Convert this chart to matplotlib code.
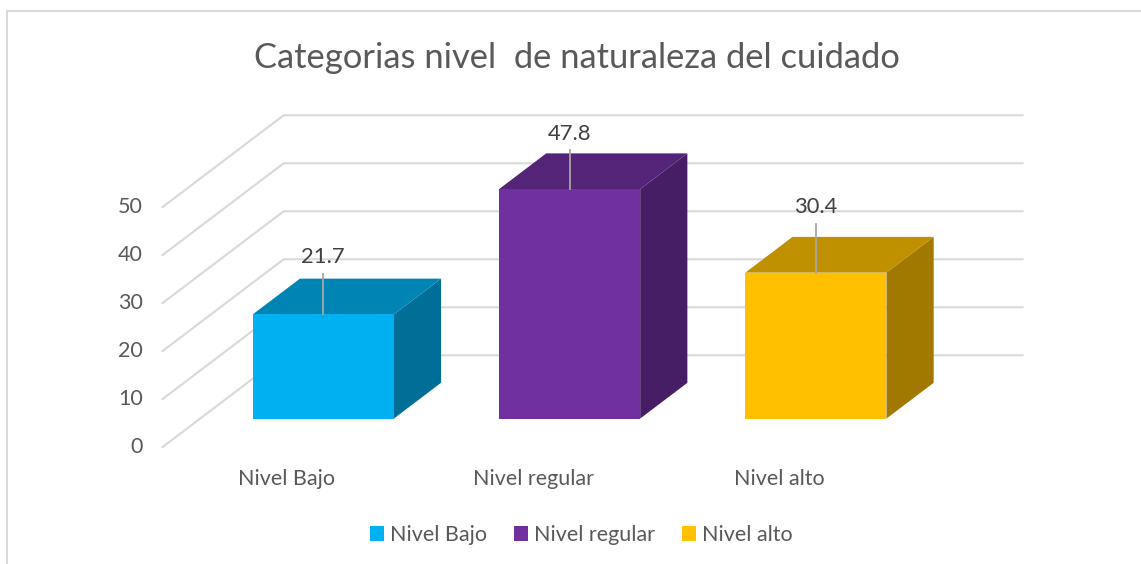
import matplotlib
matplotlib.use("Agg")
import matplotlib.pyplot as plt
from matplotlib.patches import Polygon, Patch, Rectangle

plt.rcParams['font.family'] = ['Lato', 'DejaVu Sans']

categorias = ['Nivel Bajo', 'Nivel regular', 'Nivel alto']
valores = [21.7, 47.8, 30.4]
y_ticks = [0, 10, 20, 30, 40, 50]
titulo = 'Categorias nivel  de naturaleza del cuidado'

col_front = ['#00B0F0', '#7030A0', '#FFC000']
col_top = ['#0084B4', '#542478', '#BF9000']
col_side = ['#006F97', '#461E65', '#A17900']
col_grid = '#D9D9D9'
col_text = '#595959'
col_label = '#404040'

W, H = 1141, 564
# pixels per unit of the two scales, and where value 0 / first category fall
px_x, px_y = 246.3, 4.8
x0_px, y0_px = 285.8, 447.0
# full floor depth, in axis units
depth_x, depth_y = 121 / px_x, 91.7 / px_y
d_ini, d_fin = 0.31, 0.70
ancho = 0.573

# alturas de las lineas guia y de las etiquetas sobre la barra
guia = [8.5, 8.1, 10.2]
lift = [12.0, 11.4, 13.7]

fig = plt.figure(figsize=(W / 100, H / 100), dpi=100)
ax = fig.add_axes([0, 0, 1, 1])
ax.set_xlim(-x0_px / px_x, (W - x0_px) / px_x)
ax.set_ylim(-(H - y0_px) / px_y, y0_px / px_y)
ax.axis('off')

# frame
ax.add_patch(Rectangle((6.5 / W, -0.1), 1.2, (H - 11) / H + 0.1, transform=ax.transAxes,
                       fill=False, ec=col_grid, lw=1.4, clip_on=False))

# walls
x_izq = -0.5
x_der = len(valores) - 0.5
for t in y_ticks:
    ax.plot([x_izq, x_izq + depth_x, x_der + depth_x],
            [t, t + depth_y, t + depth_y], color=col_grid, lw=1.5, zorder=1)
    ax.text(x_izq - 20 / px_x, t + 0.05, str(t), ha='right', va='center',
            fontsize=15.5, color=col_text)

# bars
for i, v in enumerate(valores):
    x1 = i - ancho / 2 + d_ini * depth_x
    x2 = x1 + ancho
    y1 = d_ini * depth_y
    dx = (d_fin - d_ini) * depth_x
    dy = (d_fin - d_ini) * depth_y
    ax.add_patch(Polygon([(x2, y1), (x2 + dx, y1 + dy), (x2 + dx, y1 + dy + v), (x2, y1 + v)],
                         fc=col_side[i], ec='none', zorder=2))
    ax.add_patch(Polygon([(x1, y1 + v), (x1 + dx, y1 + v + dy), (x2 + dx, y1 + v + dy), (x2, y1 + v)],
                         fc=col_top[i], ec='none', zorder=2))
    ax.add_patch(Polygon([(x1, y1), (x2, y1), (x2, y1 + v), (x1, y1 + v)],
                         fc=col_front[i], ec='none', zorder=3))
    xc = (x1 + x2) / 2
    ax.plot([xc, xc], [y1 + v, y1 + v + guia[i]], color='#A6A6A6', lw=1.3, zorder=4)
    ax.text(xc, y1 + v + lift[i], f'{v}', ha='center', va='center',
            fontsize=15.8, color=col_label, zorder=5)
    ax.text(i + 1.2 / px_x, -6.6, categorias[i], ha='center', va='center', fontsize=15.5, color=col_text)

ax.text(577 / W, 1 - 58 / H, titulo, transform=ax.transAxes, ha='center', va='center',
        fontsize=24.8, color=col_text)

handles = [Patch(fc=c, ec='none', label=n) for c, n in zip(col_front, categorias)]
ax.legend(handles=handles, ncol=3, loc='center', bbox_to_anchor=(581.5 / W, 1 - 535 / H),
          frameon=False, fontsize=15.5, labelcolor=col_text, handlelength=0.65, handleheight=0.65,
          handletextpad=0.28, columnspacing=1.25, borderpad=0)

fig.savefig('out.png', dpi=100, facecolor='white')
